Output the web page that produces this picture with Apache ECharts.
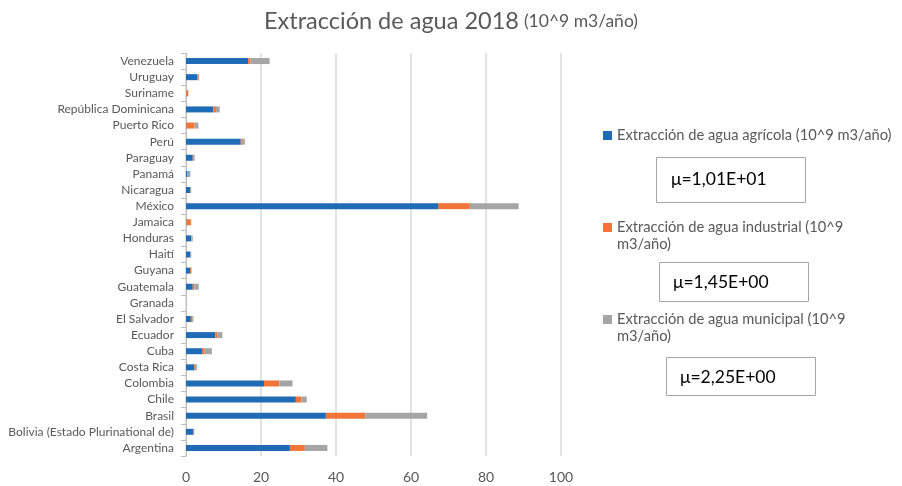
<!DOCTYPE html>
<html>
<head>
<meta charset="utf-8">
<script src="https://cdn.jsdelivr.net/npm/echarts@6/dist/echarts.min.js"></script>
<style>html,body{margin:0;padding:0;background:#fff}#c{width:902px;height:486px}</style>
</head>
<body>
<div id="c"></div>
<script>
const categories = ['Argentina','Bolivia (Estado Plurinational de)','Brasil','Chile','Colombia','Costa Rica','Cuba','Ecuador','El Salvador','Granada','Guatemala','Guyana','Haití','Honduras','Jamaica','México','Nicaragua','Panamá','Paraguay','Perú','Puerto Rico','República Dominicana','Suriname','Uruguay','Venezuela'];
const agricola  = [27.7, 2.0, 37.3, 29.3, 20.8, 2.2, 4.3, 7.8, 1.3, 0, 1.8, 1.07, 1.2, 1.4, 0.1, 67.2, 1.15, 0.4, 1.8, 14.6, 0.1, 7.3, 0.1, 3.0, 16.6];
const industrial = [4.0, 0.1, 10.5, 1.5, 4.1, 0.2, 0.7, 0.6, 0.4, 0, 0.4, 0.35, 0.05, 0.1, 1.2, 8.5, 0.1, 0.05, 0.1, 0.3, 2.2, 0.7, 0.5, 0.4, 0.6];
const municipal = [6.0, 0.1, 16.5, 1.4, 3.5, 0.5, 1.9, 1.3, 0.3, 0.01, 1.2, 0.1, 0.15, 0.3, 0.1, 13.0, 0.15, 0.7, 0.4, 0.8, 1.0, 1.0, 0.05, 0.1, 5.1];
const seriesNames = ['Extracción de agua agrícola (10^9 m3/año)','Extracción de agua industrial (10^9 m3/año)','Extracción de agua municipal (10^9 m3/año)'];
const means = ['μ=1,01E+01','μ=1,45E+00','μ=2,25E+00'];
const xTicks = [0, 20, 40, 60, 80, 100];

const colors = ['#1f6bb5','#f07537','#a5a5a5'];
const font = 'Lato, "Open Sans", sans-serif';
const txt = '#595959';

const chart = echarts.init(document.getElementById('c'));
const legendBase = {itemWidth: 9, itemHeight: 9, icon: 'rect', left: 598,
  textStyle: {color: txt, fontSize: 14.7, fontFamily: font}};
chart.setOption({
  animation: false,
  color: colors,
  title: {
    text: '{a|Extracción de agua 2018} {b|(10^9 m3/año)}',
    left: 'center', top: 4,
    textStyle: {fontWeight: 'normal', rich: {
      a: {fontSize: 23.5, color: txt, fontFamily: font, fontWeight: 'normal'},
      b: {fontSize: 17.5, color: txt, fontFamily: font, fontWeight: 'normal'}
    }}
  },
  grid: {left: 186, right: 341, top: 53, bottom: 30, containLabel: false},
  xAxis: {
    type: 'value', min: xTicks[0], max: xTicks[xTicks.length-1], interval: 20,
    axisLine: {show: false}, axisTick: {show: false},
    axisLabel: {color: txt, fontSize: 14, fontFamily: font, margin: 14},
    splitLine: {show: true, lineStyle: {color: '#d9d9d9', width: 1.5}}
  },
  yAxis: {
    type: 'category', data: categories,
    axisLine: {show: true, lineStyle: {color: '#bfbfbf', width: 1}},
    axisTick: {show: true, length: 5, lineStyle: {color: '#bfbfbf'}},
    axisLabel: {color: txt, fontSize: 12, fontFamily: font, margin: 12, interval: 0}
  },
  legend: [
    Object.assign({}, legendBase, {data: [seriesNames[0]], top: 123}),
    Object.assign({}, legendBase, {data: [seriesNames[1]], top: 215, formatter: n => n.replace(' m3/año)', '')}),
    Object.assign({}, legendBase, {data: [seriesNames[2]], top: 307, formatter: n => n.replace(' m3/año)', '')})
  ],
  graphic: [
    {type: 'text', left: 617, top: 237, style: {text: 'm3/año)', fill: txt, fontSize: 14.7, fontFamily: font}},
    {type: 'text', left: 617, top: 329, style: {text: 'm3/año)', fill: txt, fontSize: 14.7, fontFamily: font}},
    {type: 'rect', shape: {x: 656.5, y: 157.5, width: 149, height: 45}, style: {fill: '#fff', stroke: '#a6a6a6', lineWidth: 1}},
    {type: 'text', left: 671, top: 170, style: {text: means[0], fill: '#000', fontSize: 17.5, fontFamily: font}},
    {type: 'rect', shape: {x: 659.5, y: 262.5, width: 149, height: 39}, style: {fill: '#fff', stroke: '#a6a6a6', lineWidth: 1}},
    {type: 'text', left: 673, top: 273, style: {text: means[1], fill: '#000', fontSize: 17.5, fontFamily: font}},
    {type: 'rect', shape: {x: 666.5, y: 357.5, width: 149, height: 38}, style: {fill: '#fff', stroke: '#a6a6a6', lineWidth: 1}},
    {type: 'text', left: 680, top: 368, style: {text: means[2], fill: '#000', fontSize: 17.5, fontFamily: font}}
  ],
  series: [agricola, industrial, municipal].map((d, i) => ({
    name: seriesNames[i], type: 'bar', stack: 'total', data: d, barWidth: 6
  }))
});
</script>
</body>
</html>
